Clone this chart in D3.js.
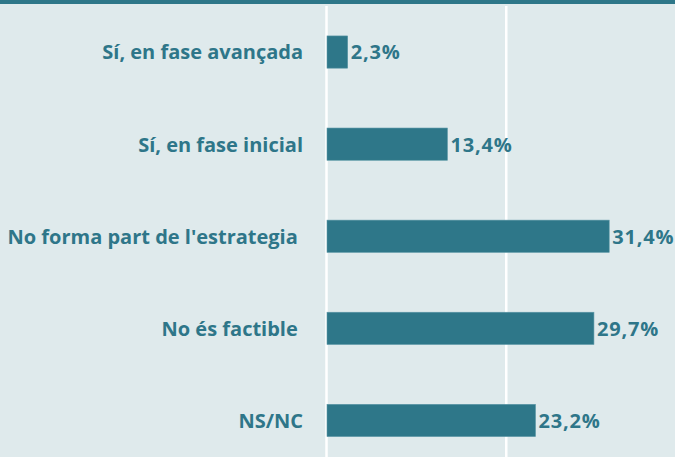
<!DOCTYPE html>
<html>
<head>
<meta charset="utf-8">
<script src="https://cdn.jsdelivr.net/npm/d3@7"></script>
<style>
  body { margin: 0; background: #dfeaec; }
  svg { display: block; }
</style>
</head>
<body>
<div id="chart"></div>
<script>
const categories = ["Sí, en fase avançada", "Sí, en fase inicial", "No forma part de l'estrategia ", "No és factible ", "NS/NC"];
const values = [2.3, 13.4, 31.4, 29.7, 23.2];
const gridTicks = [0, 20];

const width = 675, height = 457;
const colorBar = "#2e7789";
const colorText = "#2e7689";

const svg = d3.select("#chart").append("svg")
  .attr("width", width)
  .attr("height", height);

svg.append("rect")
  .attr("width", width).attr("height", height)
  .attr("fill", "#dfeaec");

// top band
svg.append("rect")
  .attr("x", 0).attr("y", 0)
  .attr("width", width).attr("height", 4)
  .attr("fill", "#2e7789");

const x = d3.scaleLinear().domain([0, 40]).range([326.5, 686]);
const y = d3.scaleBand().domain(categories).range([6, 466.5])
  .paddingInner(0.65).paddingOuter(0.325);

svg.append("g")
  .selectAll("line")
  .data(gridTicks)
  .join("line")
    .attr("x1", d => x(d)).attr("x2", d => x(d))
    .attr("y1", 6).attr("y2", height)
    .attr("stroke", "#ffffff")
    .attr("stroke-width", 2.5);

svg.append("g")
  .selectAll("rect")
  .data(values)
  .join("rect")
    .attr("x", x(0) + 0.5)
    .attr("y", (d, i) => y(categories[i]))
    .attr("width", d => x(d) - x(0))
    .attr("height", y.bandwidth())
    .attr("fill", colorBar)
    .attr("stroke", "#5b97a6")
    .attr("stroke-width", 0.6);

const font = "'Open Sans', Lato, sans-serif";
const fontSize = 20;

svg.append("g")
  .selectAll("text")
  .data(categories)
  .join("text")
    .attr("x", 303)
    .attr("y", d => y(d) + y.bandwidth() / 2)
    .attr("dy", "0.37em")
    .attr("text-anchor", "end")
    .style("white-space", "pre")
    .attr("font-family", font)
    .attr("font-weight", "bold")
    .attr("font-size", fontSize)
    .attr("fill", colorText)
    .text(d => d);

svg.append("g")
  .selectAll("text")
  .data(values)
  .join("text")
    .attr("x", d => x(d) + 3.5)
    .attr("y", (d, i) => y(categories[i]) + y.bandwidth() / 2)
    .attr("dy", "0.37em")
    .attr("font-family", font)
    .attr("font-weight", "bold")
    .attr("font-size", fontSize)
    .attr("letter-spacing", 0.8)
    .attr("fill", colorText)
    .text(d => d3.format(".1f")(d).replace(".", ",") + "%");
</script>
</body>
</html>
